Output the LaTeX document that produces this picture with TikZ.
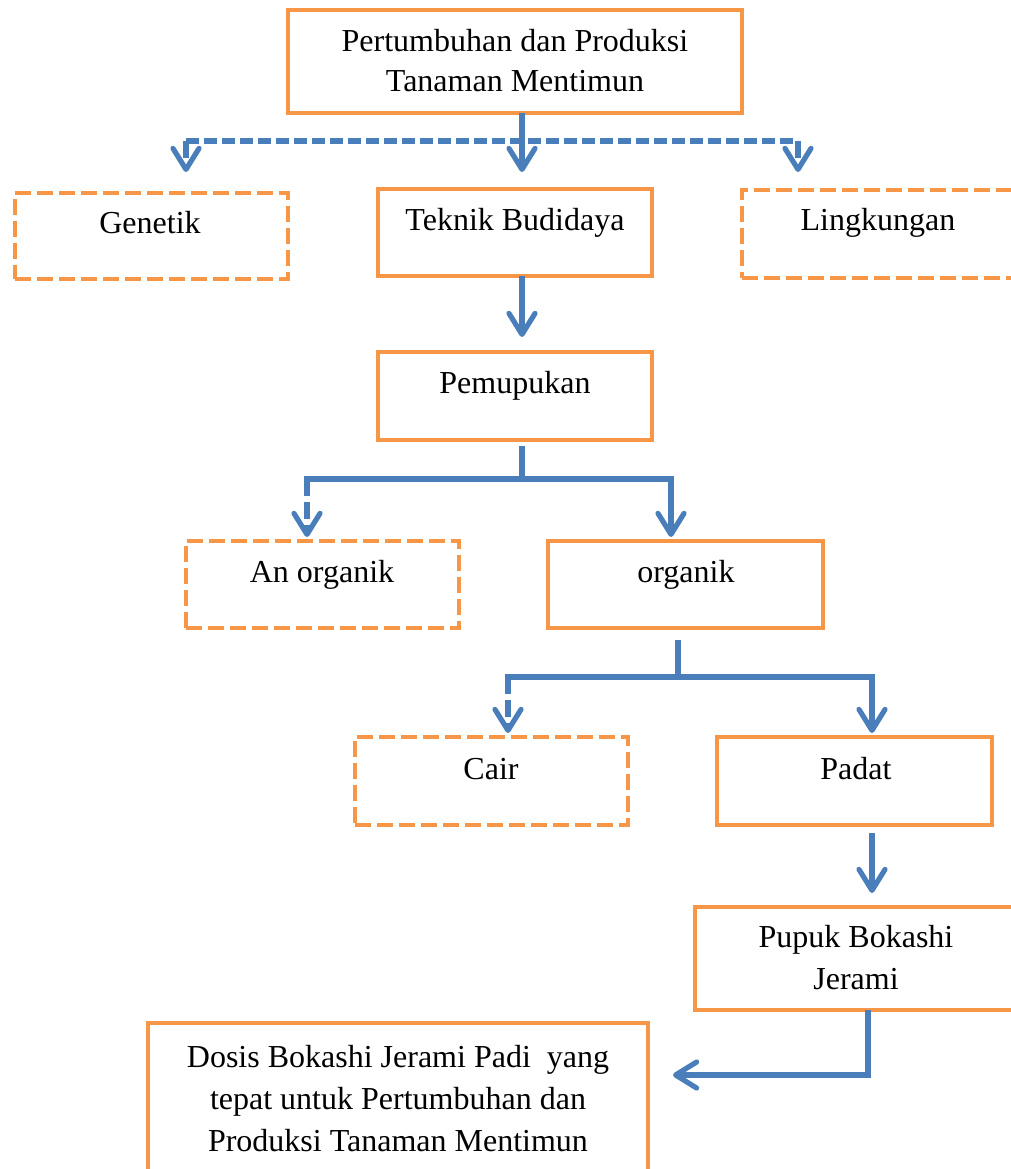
\documentclass[tikz,border=0pt]{standalone}
\usepackage{fontspec}
\setmainfont{Liberation Serif}
\usetikzlibrary{arrows.meta}
\definecolor{bor}{HTML}{F79646}
\definecolor{blu}{HTML}{4A7EBB}
\tikzset{
  box/.style={draw=bor, line width=2.4pt, rectangle, inner sep=0pt, outer sep=0pt, anchor=north west},
  dbox/.style={box, dash pattern=on 8pt off 3pt},
  txt/.style={font=\fontsize{16}{20.5}\selectfont, align=center, inner sep=0pt},
  con/.style={draw=blu, line width=2.6pt},
  arr/.style={con, -{Straight Barb[length=10.5pt, width=13pt, round]}},
  bdash/.style={dash pattern=on 6.5pt off 2.5pt},
  vdash/.style={dash pattern=on 8.5pt off 3pt},
}
\begin{document}
\begin{tikzpicture}[x=0.5pt, y=-0.5pt]
\useasboundingbox (0,0) rectangle (1011,1169);
\clip (0,0) rectangle (1011,1169);

% boxes
\node[box, minimum width=227pt, minimum height=51.5pt] (top) at (288,10) {};
\node[dbox, minimum width=136.5pt, minimum height=43pt] (gen) at (15,193) {};
\node[box, minimum width=137pt, minimum height=43.5pt] (tek) at (378,189) {};
\node[dbox, minimum width=150pt, minimum height=44pt] (lin) at (742,190) {};
\node[box, minimum width=137pt, minimum height=44pt] (pem) at (378,352) {};
\node[dbox, minimum width=136.5pt, minimum height=43.5pt] (ano) at (186,541) {};
\node[box, minimum width=137.5pt, minimum height=43.5pt] (org) at (548,541) {};
\node[dbox, minimum width=136.5pt, minimum height=44pt] (cai) at (355,737) {};
\node[box, minimum width=137.5pt, minimum height=44pt] (pad) at (717,737) {};
\node[box, minimum width=165pt, minimum height=51.5pt] (pup) at (695,907) {};
\node[box, minimum width=250pt, minimum height=85pt] (dos) at (148,1023) {};

% texts
\node[txt, font=\fontsize{16}{20}\selectfont] (ttop) at (515,61) {Pertumbuhan dan Produksi\\Tanaman Mentimun};
\node[txt, anchor=base] (tgen) at (150,233) {Genetik};
\node[txt, anchor=base] (ttek) at (515,230) {Teknik Budidaya};
\node[txt, anchor=base] (tlin) at (878,230) {Lingkungan};
\node[txt, anchor=base] (tpem) at (515,393) {Pemupukan};
\node[txt, anchor=base] (tano) at (322,582) {An organik};
\node[txt, anchor=base] (torg) at (686,582) {organik};
\node[txt, anchor=base] (tcai) at (491,779) {Cair};
\node[txt, anchor=base] (tpad) at (856,779) {Padat};
\node[txt, font=\fontsize{16}{21}\selectfont] (tpup) at (856,958) {Pupuk Bokashi\\Jerami};
\node[txt, font=\fontsize{16}{21}\selectfont] (tdos) at (398,1098.5) {Dosis Bokashi Jerami Padi~ yang\\tepat untuk Pertumbuhan dan\\Produksi Tanaman Mentimun};

% junctions
\coordinate (j0) at (522,141);
\coordinate (jl) at (186,141);
\coordinate (jr) at (798,141);
\coordinate (p0) at (522,479);
\coordinate (pl) at (307,479);
\coordinate (pr) at (671,479);
\coordinate (o0) at (678,677);
\coordinate (ol) at (508,677);
\coordinate (or) at (872,677);
\coordinate (b0) at (868,1075);

% connectors
\draw[con] ([xshift=3.5pt]top.south) -- (j0);
\draw[con, bdash] (jl) -- (jr);
\draw[arr] (j0) -- (522,172);
\draw[arr, vdash] (jl) -- (186,172);
\draw[arr, vdash] (jr) -- (798,172);

\draw[arr] ([xshift=3.5pt]tek.south) -- ([xshift=3.5pt, yshift=7.5pt]pem.north);

\draw[con] ([yshift=-3pt]p0 |- pem.south) -- (p0);
\draw[arr, line cap=rect] (pl) -- (pr) -- ([yshift=2pt]pr |- org.north);
\draw[arr, vdash] (pl) -- ([yshift=2pt]pl |- ano.north);

\draw[con] ([yshift=-6pt]o0 |- org.south) -- (o0);
\draw[arr, line cap=rect] (ol) -- (or) -- ([yshift=2pt]or |- pad.north);
\draw[arr, vdash] (ol) -- ([yshift=2pt]ol |- cai.north);

\draw[arr] ([yshift=-4pt]or |- pad.south) -- ([yshift=7pt]or |- pup.north);

\draw[arr] (b0 |- pup.south) -- (b0) -- ([xshift=12.5pt]dos.east |- b0);
\end{tikzpicture}
\end{document}
